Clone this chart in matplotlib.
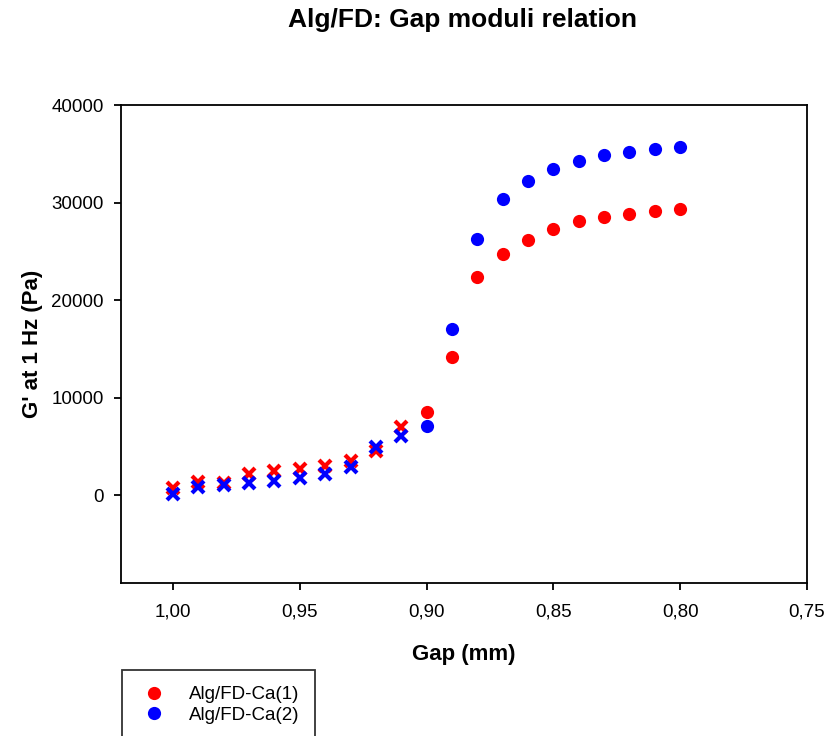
import matplotlib.pyplot as plt
import numpy as np

plt.rcParams['font.family'] = ['Liberation Sans', 'DejaVu Sans']

# gap (mm) and G' at 1 Hz (Pa)
gap = np.array([1.00, 0.99, 0.98, 0.97, 0.96, 0.95, 0.94, 0.93, 0.92, 0.91,
                0.90, 0.89, 0.88, 0.87, 0.86, 0.85, 0.84, 0.83, 0.82, 0.81, 0.80])
g_ca1 = np.array([700, 1360, 1200, 2150, 2500, 2700, 3000, 3500, 4550, 7000,
                  8500, 14120, 22400, 24680, 26120, 27320, 28140, 28510, 28820, 29130, 29300])
g_ca2 = np.array([100, 850, 1000, 1260, 1470, 1780, 2200, 2840, 4950, 6050,
                  7080, 17000, 26290, 30330, 32200, 33400, 34290, 34840, 35210, 35490, 35720])
n_cross = 10  # first points drawn as crosses

labels = ["Alg/FD-Ca(1)", "Alg/FD-Ca(2)"]
colors = ["#ff0000", "#0000ff"]
xticks = [1.00, 0.95, 0.90, 0.85, 0.80, 0.75]
yticks = [0, 10000, 20000, 30000, 40000]

fig = plt.figure(figsize=(8.27, 7.36), dpi=100)
ax = fig.add_axes([121 / 827, 1 - 583 / 736, (807 - 121) / 827, (583 - 105) / 736])

for g, c, lab in zip([g_ca1, g_ca2], colors, labels):
    ax.plot(gap[:n_cross], g[:n_cross], "x", color=c, markersize=8.5, markeredgewidth=3)
    ax.plot(gap[n_cross:], g[n_cross:], "o", color=c, markersize=9.5,
            markeredgewidth=0, label=lab)

ax.set_xlim(1.0205, 0.75)
ax.set_ylim(-9000, 40000)
ax.set_xticks(xticks)
ax.set_xticklabels([f"{v:.2f}".replace(".", ",") for v in xticks])
ax.set_yticks(yticks)
ax.tick_params(direction="out", length=5, width=1.3, labelsize=13.5)
ax.tick_params(axis="x", pad=10)
ax.tick_params(axis="y", pad=7.5)
for s in ax.spines.values():
    s.set_linewidth(1.3)

ax.set_xlabel("Gap (mm)", fontsize=16, fontweight="bold", labelpad=17)
ax.set_ylabel("G' at 1 Hz (Pa)", fontsize=16, fontweight="bold", labelpad=6)
fig.text(463 / 827, 1 - 20 / 736, "Alg/FD: Gap moduli relation", ha="center", va="center",
         fontsize=19, fontweight="bold")

leg = fig.legend(loc="upper left", bbox_to_anchor=(122 / 827, 1 - 670 / 736),
                 fontsize=13.5, frameon=True, fancybox=False, borderpad=0.85,
                 handlelength=1.7, handletextpad=1.0, labelspacing=0.2, borderaxespad=0)
leg.get_frame().set_edgecolor("black")
leg.get_frame().set_linewidth(1.3)

fig.savefig("out.png", dpi=100)
